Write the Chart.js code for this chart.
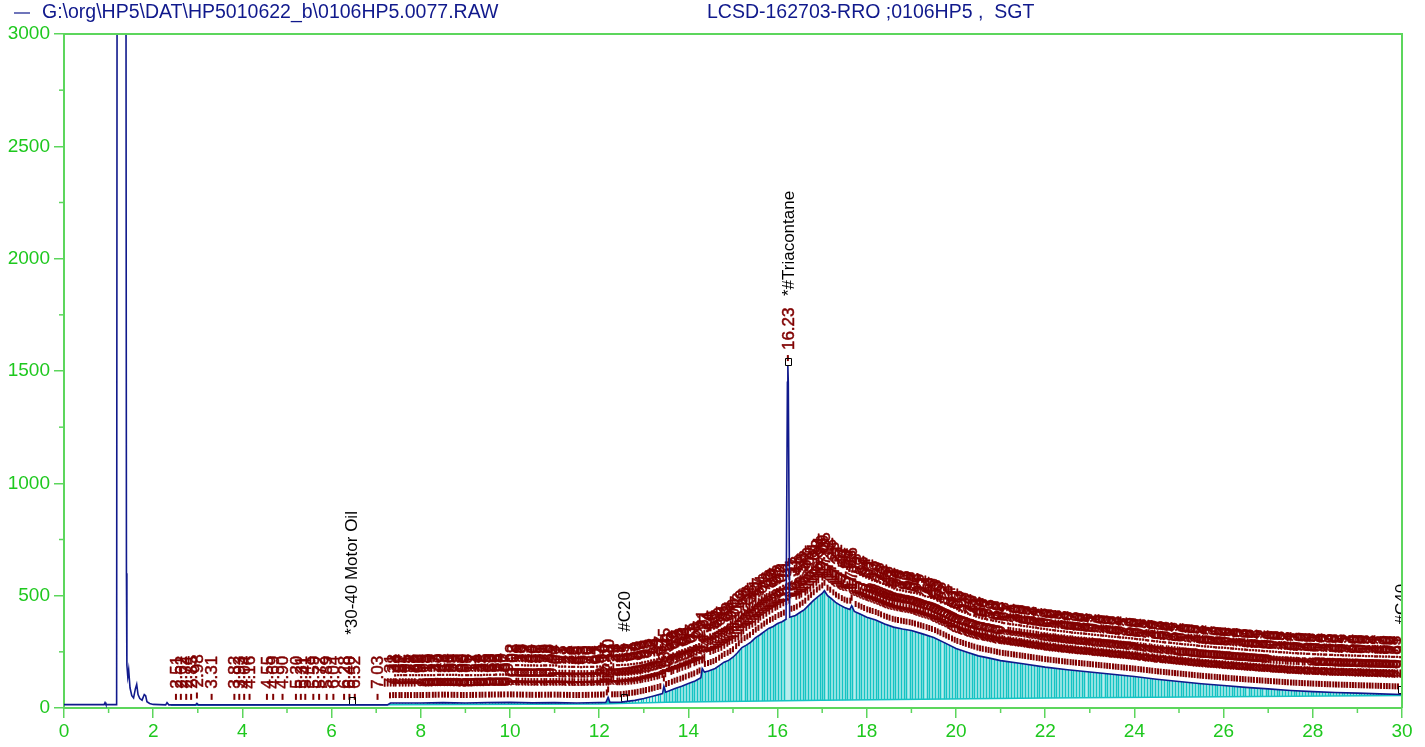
<!DOCTYPE html>
<html>
<head>
<meta charset="utf-8">
<script src="https://cdn.jsdelivr.net/npm/chart.js@4.4.0/dist/chart.umd.min.js"></script>
<style>
  html, body { margin: 0; padding: 0; background: #fff; overflow: hidden; }
</style>
</head>
<body>
<canvas id="chrom" width="1425" height="747"></canvas>
<script>
// header texts
const fileLabel = 'G:\\org\\HP5\\DAT\\HP5010622_b\\0106HP5.0077.RAW';
const sampleLabel = 'LCSD-162703-RRO ;0106HP5 ,  SGT';

// signal trace (retention time in min, response)
const traceTimes = [0.00, 0.90, 0.92, 0.94, 1.18, 1.19, 1.39, 1.40, 1.41, 1.43, 1.45, 1.48, 1.52, 1.56, 1.60, 1.63, 1.66, 1.70, 1.75, 1.80, 1.83, 1.86, 1.92, 2.00, 2.28, 2.31, 2.35, 2.95, 2.98, 3.01, 7.25, 7.32, 8.00, 8.50, 9.00, 9.50, 10.00, 10.50, 11.00, 11.50, 12.00, 12.15, 12.20, 12.24, 12.50, 12.80, 13.00, 13.20, 13.42, 13.45, 13.49, 13.70, 13.85, 14.00, 14.15, 14.28, 14.31, 14.36, 14.45, 14.60, 14.70, 14.80, 14.90, 15.00, 15.10, 15.20, 15.30, 15.40, 15.50, 15.60, 15.70, 15.80, 15.90, 16.00, 16.10, 16.19, 16.22, 16.23, 16.24, 16.27, 16.40, 16.50, 16.60, 16.70, 16.80, 16.90, 17.00, 17.05, 17.12, 17.20, 17.30, 17.40, 17.50, 17.62, 17.66, 17.72, 17.85, 18.00, 18.20, 18.40, 18.60, 18.80, 19.00, 19.25, 19.50, 19.75, 20.00, 20.25, 20.50, 20.75, 21.00, 21.50, 22.00, 22.50, 23.00, 23.50, 24.00, 24.50, 25.00, 25.50, 26.00, 26.50, 27.00, 27.50, 28.00, 28.50, 29.00, 29.50, 30.00];
const traceValues = [15, 15, 24, 15, 15, 3200, 3200, 600, 190, 140, 170, 90, 55, 45, 85, 105, 60, 42, 35, 60, 55, 28, 20, 16, 14, 24, 14, 14, 20, 14, 14, 22, 22, 24, 22, 24, 25, 23, 24, 22, 24, 25, 47, 25, 26, 34, 42, 52, 64, 96, 70, 87, 97, 109, 120, 135, 176, 160, 165, 176, 190, 204, 212, 226, 246, 269, 280, 293, 312, 325, 340, 354, 363, 376, 384, 395, 1450, 1522, 1450, 404, 412, 425, 438, 458, 478, 495, 510, 522, 500, 488, 470, 458, 447, 438, 455, 430, 418, 404, 392, 374, 360, 352, 345, 330, 314, 290, 265, 248, 232, 222, 211, 197, 182, 170, 160, 150, 140, 128, 118, 108, 100, 92, 85, 78, 73, 69, 66, 63, 60];

// integration baseline
const baseTimes = [2.40, 7.30, 12.00, 13.50, 17.00, 22.00, 30.00];
const baseValues = [12, 14, 18, 26, 34, 44, 56];

// integrated peaks (retention times)
const peakTimes = [
  2.51, 2.62, 2.74, 2.85, 2.98, 3.31, 3.82, 3.93, 4.04, 4.16, 4.55, 4.69, 4.90, 5.20, 5.31, 5.41, 5.59, 5.72, 5.89, 6.04, 6.28, 6.40, 6.52, 7.03,
  7.31, 7.38, 7.44, 7.52, 7.57, 7.65, 7.71, 7.78, 7.86, 7.92, 7.99, 8.05, 8.13, 8.19, 8.27, 8.33, 8.40, 8.48, 8.54, 8.61, 8.69, 8.75, 8.82, 8.90, 8.96, 9.03, 9.11, 9.17, 9.24, 9.32, 9.38, 9.45, 9.53, 9.59, 9.66, 9.74, 9.80, 9.87, 9.95,
  10.02, 10.08, 10.16, 10.23, 10.29, 10.37, 10.44, 10.50, 10.58, 10.65, 10.71, 10.79, 10.86, 10.92, 11.00, 11.07, 11.13, 11.21, 11.28, 11.34, 11.42, 11.49, 11.55, 11.63, 11.70, 11.76, 11.84, 11.91, 11.97,
  12.04, 12.10, 12.17, 12.20, 12.29, 12.35, 12.41, 12.48, 12.55, 12.61, 12.67, 12.74, 12.80, 12.86, 12.93, 12.99, 13.05, 13.12, 13.18, 13.24, 13.31, 13.37, 13.45, 13.50, 13.56, 13.63, 13.69, 13.75, 13.82, 13.88, 13.94,
  14.01, 14.07, 14.13, 14.20, 14.25, 14.31, 14.37, 14.44, 14.50, 14.56, 14.62, 14.69, 14.75, 14.81, 14.88, 14.94, 15.00, 15.07, 15.13, 15.19, 15.26, 15.32, 15.38, 15.45, 15.51, 15.57, 15.64, 15.70, 15.76, 15.83, 15.89, 15.95,
  16.02, 16.08, 16.14, 16.23, 16.31, 16.37, 16.43, 16.50, 16.56, 16.62, 16.69, 16.75, 16.81, 16.88, 16.94, 17.00, 17.05, 17.12, 17.18, 17.25, 17.31, 17.37, 17.44, 17.50, 17.56, 17.63, 17.66, 17.75, 17.82, 17.88, 17.94,
  18.01, 18.07, 18.13, 18.20, 18.26, 18.32, 18.39, 18.45, 18.51, 18.58, 18.64, 18.70, 18.77, 18.83, 18.89, 18.96, 19.02, 19.08, 19.15, 19.21, 19.27, 19.34, 19.40, 19.46, 19.53, 19.59, 19.65, 19.72, 19.78, 19.84, 19.91, 19.97,
  20.03, 20.10, 20.16, 20.22, 20.29, 20.35, 20.41, 20.48, 20.54, 20.60, 20.67, 20.73, 20.79, 20.86, 20.92, 20.98, 21.05, 21.11, 21.17, 21.24, 21.30, 21.36, 21.43, 21.49, 21.55, 21.62, 21.68, 21.74, 21.81, 21.87, 21.93,
  22.00, 22.06, 22.12, 22.19, 22.25, 22.31, 22.38, 22.44, 22.50, 22.57, 22.63, 22.69, 22.76, 22.82, 22.88, 22.95, 23.01, 23.07, 23.14, 23.20, 23.26, 23.33, 23.39, 23.45, 23.52, 23.58, 23.64, 23.71, 23.77, 23.83, 23.90, 23.96,
  24.02, 24.09, 24.15, 24.21, 24.28, 24.34, 24.40, 24.47, 24.53, 24.59, 24.66, 24.72, 24.78, 24.85, 24.91, 24.97, 25.04, 25.10, 25.16, 25.23, 25.29, 25.35, 25.42, 25.48, 25.54, 25.61, 25.67, 25.73, 25.80, 25.86, 25.92, 25.99,
  26.05, 26.11, 26.18, 26.24, 26.30, 26.37, 26.43, 26.49, 26.56, 26.62, 26.68, 26.75, 26.81, 26.87, 26.94, 27.00, 27.06, 27.13, 27.19, 27.25, 27.32, 27.38, 27.44, 27.51, 27.57, 27.63, 27.70, 27.76, 27.82, 27.89, 27.95,
  28.01, 28.08, 28.14, 28.20, 28.27, 28.33, 28.39, 28.46, 28.52, 28.58, 28.65, 28.71, 28.77, 28.84, 28.90, 28.96, 29.03, 29.09, 29.15, 29.22, 29.28, 29.34, 29.41, 29.47, 29.53, 29.60, 29.66, 29.72, 29.79, 29.85, 29.91
];

// identified compounds
const compoundNames = ['*30-40 Motor Oil', '#C20', '*#Triacontane', '#C40'];
const compoundTimes = [6.45, 12.56, 16.23, 29.98];

const axisGreen = '#5cd65c';
const labelGreen = '#1ec81e';
const navy = '#10198c';
const maroon = '#800000';
const cyan = '#14c3c3';
const fontFamily = '"Liberation Sans", Arial, Helvetica, sans-serif';

function interp(ts, vs, t) {
  if (t <= ts[0]) return vs[0];
  for (let i = 1; i < ts.length; i++) {
    if (t <= ts[i]) {
      const f = (t - ts[i - 1]) / (ts[i] - ts[i - 1]);
      return vs[i - 1] + f * (vs[i] - vs[i - 1]);
    }
  }
  return vs[vs.length - 1];
}
const traceAt = t => interp(traceTimes, traceValues, t);
const baseAt = t => interp(baseTimes, baseValues, t);

const chromPlugin = {
  id: 'chrom',
  beforeDatasetsDraw(chart) {
    const { ctx, chartArea: a, scales: { x, y } } = chart;
    ctx.save();
    ctx.beginPath();
    ctx.rect(a.left, a.top, a.right - a.left, a.bottom - a.top);
    ctx.clip();

    // shaded area under the hump
    const fillStart = 13.4;
    ctx.beginPath();
    ctx.moveTo(x.getPixelForValue(fillStart), y.getPixelForValue(traceAt(fillStart)));
    traceTimes.forEach((t, i) => {
      if (t < fillStart || (t > 16.19 && t < 16.27)) return;
      ctx.lineTo(x.getPixelForValue(t), y.getPixelForValue(traceValues[i]));
    });
    for (let i = baseTimes.length - 1; i >= 0; i--) {
      const t = Math.max(baseTimes[i], fillStart);
      ctx.lineTo(x.getPixelForValue(t), y.getPixelForValue(baseAt(t)));
      if (baseTimes[i] < fillStart) break;
    }
    ctx.closePath();
    ctx.fillStyle = 'rgba(20,195,195,0.3)';
    ctx.fill();

    // drop lines
    ctx.strokeStyle = cyan;
    ctx.lineWidth = 1.5;
    peakTimes.forEach(t => {
      const v = traceAt(t);
      if (v > 1000) return;
      const px = Math.round(x.getPixelForValue(t)) + 0.5;
      ctx.beginPath();
      ctx.moveTo(px, y.getPixelForValue(baseAt(t)));
      ctx.lineTo(px, y.getPixelForValue(v));
      ctx.stroke();
    });

    // baseline
    ctx.beginPath();
    baseTimes.forEach((t, i) => {
      const px = x.getPixelForValue(t), py = y.getPixelForValue(baseValues[i]);
      i ? ctx.lineTo(px, py) : ctx.moveTo(px, py);
    });
    ctx.lineWidth = 1.5;
    ctx.stroke();

    // retention time labels
    ctx.fillStyle = maroon;
    ctx.strokeStyle = maroon;
    ctx.font = '17px ' + fontFamily;
    ctx.textAlign = 'left';
    ctx.textBaseline = 'middle';
    ctx.lineJoin = 'round';
    peakTimes.forEach(t => {
      const px = x.getPixelForValue(t);
      const py = y.getPixelForValue(traceAt(t));
      ctx.lineWidth = 2;
      ctx.beginPath();
      ctx.moveTo(px, py - 5);
      ctx.lineTo(px, py - 11);
      ctx.stroke();
      ctx.save();
      ctx.translate(px, py - 16);
      ctx.rotate(-Math.PI / 2);
      ctx.lineWidth = 0.5;
      ctx.strokeText(t.toFixed(2), 0, 1);
      ctx.fillText(t.toFixed(2), 0, 1);
      ctx.restore();
    });

    // compound names
    ctx.fillStyle = '#000';
    ctx.strokeStyle = '#000';
    ctx.font = '17px ' + fontFamily;
    compoundTimes.forEach((t, i) => {
      const px = x.getPixelForValue(t);
      const py = y.getPixelForValue(traceAt(t));
      ctx.lineWidth = 1;
      ctx.strokeRect(Math.round(px) - 2.5, Math.round(py) - 7.5, 6, 7);
      ctx.save();
      ctx.translate(px, py - 70);
      ctx.rotate(-Math.PI / 2);
      ctx.fillText(compoundNames[i], 0, 1);
      ctx.restore();
    });
    ctx.restore();
  },
  afterDraw(chart) {
    const { ctx, chartArea: a, scales: { x, y } } = chart;
    ctx.save();
    ctx.strokeStyle = axisGreen;
    ctx.lineWidth = 2;
    ctx.beginPath();
    ctx.moveTo(a.left, a.top);
    ctx.lineTo(a.right, a.top);
    ctx.lineTo(a.right, a.bottom);
    ctx.stroke();
    // minor ticks
    ctx.lineWidth = 1.5;
    for (let t = 1; t < 30; t += 2) {
      const px = x.getPixelForValue(t);
      ctx.beginPath();
      ctx.moveTo(px, a.bottom);
      ctx.lineTo(px, a.bottom + 5);
      ctx.stroke();
    }
    for (let v = 250; v < 3000; v += 500) {
      const py = y.getPixelForValue(v);
      ctx.beginPath();
      ctx.moveTo(a.left - 5, py);
      ctx.lineTo(a.left, py);
      ctx.stroke();
    }
    // header
    ctx.strokeStyle = navy;
    ctx.lineWidth = 1.2;
    ctx.beginPath();
    ctx.moveTo(14, 13);
    ctx.lineTo(30, 13);
    ctx.stroke();
    ctx.fillStyle = navy;
    ctx.font = '19.5px ' + fontFamily;
    ctx.textBaseline = 'middle';
    ctx.textAlign = 'left';
    ctx.fillText(fileLabel, 42, 13);
    ctx.fillText(sampleLabel, 707, 13);
    ctx.restore();
  }
};

new Chart(document.getElementById('chrom'), {
  type: 'line',
  data: {
    datasets: [{
      label: fileLabel,
      data: traceTimes.map((t, i) => ({ x: t, y: traceValues[i] })),
      borderColor: navy,
      borderWidth: 1.6,
      pointRadius: 0,
      tension: 0,
      fill: false
    }]
  },
  options: {
    responsive: false,
    animation: false,
    devicePixelRatio: 1,
    layout: { padding: { top: 34, right: 23, left: 0, bottom: 0 } },
    plugins: { legend: { display: false }, tooltip: { enabled: false } },
    scales: {
      x: {
        type: 'linear', min: 0, max: 30,
        afterFit(s) { s.height = 39; },
        ticks: { stepSize: 2, color: labelGreen, font: { size: 19, family: fontFamily }, padding: 2, maxRotation: 0, autoSkip: false, callback: v => String(v) },
        grid: { drawOnChartArea: false, tickLength: 10, color: axisGreen, lineWidth: 1.5 },
        border: { color: axisGreen, width: 2 }
      },
      y: {
        min: 0, max: 3000,
        afterFit(s) { s.width = 64; },
        ticks: { stepSize: 500, color: labelGreen, font: { size: 19, family: fontFamily }, padding: 4, callback: v => String(v) },
        grid: { drawOnChartArea: false, tickLength: 10, color: axisGreen, lineWidth: 1.5 },
        border: { color: axisGreen, width: 2 }
      }
    }
  },
  plugins: [chromPlugin]
});
</script>
</body>
</html>
